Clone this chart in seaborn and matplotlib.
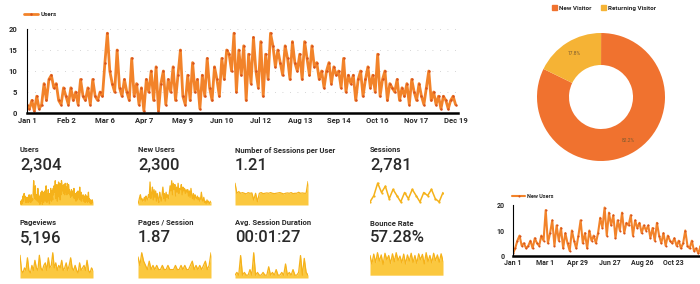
import seaborn as sns
import matplotlib.pyplot as plt
from matplotlib.patches import Patch
import numpy as np
import pandas as pd

sns.set_theme(style="white")
plt.rcParams['font.family'] = ['Roboto', 'DejaVu Sans']

ORANGE = "#f2832a"
DARK_ORANGE = "#d8531c"
PIE_ORANGE = "#f0722f"
PIE_YELLOW = "#f5b335"
YELLOW = "#f5b21a"
FILL_YELLOW = "#fbc534"
TEXT = "#2a2a2a"

# ---- data --------------------------------------------------------------
# daily users, one value every 2 days from Jan 1 (day 0) to Dec 19 (day 352)
users = [2, 1, 3, 0.5, 4, 1, 2, 7, 3, 8, 9, 6, 7, 3, 2, 6,
         4, 2, 6, 3, 5, 2, 8, 4, 3, 6, 2, 8, 4, 3, 5, 4,
         12, 19, 10, 7, 5, 15, 6, 4, 8, 5, 3, 13, 4, 7, 2, 6,
         0.5, 8, 5, 10, 3, 11, 0.5, 7, 10, 2, 8, 5, 11, 3, 9, 15,
         4, 2, 9, 3, 12, 5, 8, 1, 9, 4, 13, 6, 3, 11, 8, 4,
         13, 8, 15, 14, 10, 19, 5, 15, 9, 16, 3, 14, 7, 18, 10, 6,
         17, 4, 14, 8, 19, 16, 11, 15, 12, 9, 16, 13, 8, 17, 12, 10,
         14, 8, 17, 13, 9, 16, 11, 12, 8, 10, 6, 10, 12, 7, 11, 9,
         10, 6, 13, 5, 9, 7, 9, 3, 8, 10, 4, 8, 11, 6, 9, 5,
         14, 4, 8, 10, 3, 7, 6, 5, 8, 3, 6, 4, 7, 2, 8, 5,
         3, 7, 4, 2, 6, 10, 3, 5, 2, 4, 1, 4, 3, 1, 3, 4,
         2]
users_step = 2
main_ticks = [0, 32, 64, 96, 128, 160, 192, 224, 256, 288, 320, 352]
main_labels = ["Jan 1", "Feb 2", "Mar 6", "Apr 7", "May 9", "Jun 10",
               "Jul 12", "Aug 13", "Sep 14", "Oct 16", "Nov 17", "Dec 19"]

# new users, one value every 4 days
new_users = [1, 3, 6, 8, 4, 5, 3, 4,
             6, 3, 7, 5, 4, 8, 6,
             18, 5, 9, 14, 4, 12, 6, 11,
             3, 9, 5, 2, 10, 6, 3,
             8, 14, 5, 9, 3, 10, 6, 8,
             5, 9, 15, 11, 19, 8, 17, 12,
             16, 7, 14, 10, 17, 9, 13,
             12, 16, 8, 14, 11, 13, 9, 12,
             10, 12, 7, 11, 6, 13, 8,
             5, 9, 4, 8, 6, 5, 7, 4,
             6, 3, 5, 10, 4, 3, 6, 2,
             3, 1, 4, 2, 3, 1, 2, 3]
new_users_step = 4
nu_ticks = [0, 59, 118, 177, 237, 295]
nu_labels = ["Jan 1", "Mar 1", "Apr 29", "Jun 27", "Aug 26", "Oct 23"]

visitor_types = ["New Visitor", "Returning Visitor"]
visitor_share = [82.2, 17.8]

sessions_per_user = [1.5, 1.2, 1.25, 1.2, 1.22, 1.2, 1.18, 1.22, 1.2, 1.21,
                     1.0, 1.2, 0.95, 1.2, 1.22, 1.19, 1.2, 1.21, 1.2, 1.22,
                     1.2, 1.19, 1.2, 1.21, 1.22, 1.2, 1.18, 1.2, 1.21, 1.2,
                     1.22, 1.19, 1.2, 1.2, 1.23, 1.2, 1.21, 1.2, 1.2, 1.55]
sessions = [3, 5, 9, 6, 8, 4, 7, 5, 3, 6, 4, 7, 5, 3, 6, 5, 7, 4, 3, 6]
pageviews = [9, 3, 2, 4, 3, 8, 3, 2, 5, 3, 7, 4, 3, 9, 4, 3, 5, 6, 3, 8,
             4, 5, 10, 4, 6, 3, 5, 4, 7, 3, 4, 6, 3, 5, 8, 4, 3, 5, 3, 2,
             6, 3, 4, 5, 3, 7, 3, 2, 4, 3]
pages_per_session = [5, 3, 6, 4, 3, 2, 4, 2, 3, 2, 3, 2, 2, 3, 2, 2, 3, 2, 2, 2,
                     3, 2, 2, 3, 2, 3, 2, 2, 3, 4, 2, 3, 2, 3, 2, 3, 4, 2, 3, 6]
avg_duration = [1, 2, 1, 8, 1, 2, 1, 1, 3, 1, 9, 1, 2, 1, 1, 2, 1, 1, 4, 1,
                2, 1, 3, 1, 1, 2, 1, 5, 1, 2, 1, 3, 1, 1, 2, 8, 1, 7, 2, 1]
bounce_rate = [70, 40, 75, 45, 80, 50, 72, 38, 78, 55, 70, 42, 76, 48, 80, 52,
               68, 44, 75, 40, 72, 50, 78, 45, 70, 42, 76, 55, 74, 40, 80, 48,
               70, 44, 78, 52, 72, 46, 76, 50]

kpi_titles = ["Users", "New Users", "Number of Sessions per User", "Sessions",
              "Pageviews", "Pages / Session", "Avg. Session Duration", "Bounce Rate"]
kpi_values = ["2,304", "2,300", "1.21", "2,781", "5,196", "1.87", "00:01:27", "57.28%"]
kpi_series = [users, new_users, sessions_per_user, sessions,
              pageviews, pages_per_session, avg_duration, bounce_rate]

W, H = 700, 284


def px(x, y, w, h):
    # pixel box (left, top, width, height) -> figure coords
    return [x / W, 1 - (y + h) / H, w / W, h / H]


fig = plt.figure(figsize=(7, 2.84), dpi=100)

# ---- main users chart --------------------------------------------------
ax = fig.add_axes(px(27, 29, 431, 84))
df = pd.DataFrame({"day": np.arange(len(users)) * users_step, "Users": users})
sns.lineplot(data=df, x="day", y="Users", ax=ax, color=ORANGE, linewidth=2.0,
             marker="o", markersize=1.8, markerfacecolor=DARK_ORANGE,
             markeredgewidth=0, label="Users")
ax.set_xlim(0, 354)
ax.set_ylim(0, 20)
ax.set_xticks(main_ticks)
ax.set_xticklabels(main_labels, fontsize=5.5, fontweight="bold", color=TEXT)
ax.set_yticks([0, 5, 10, 15, 20])
ax.set_yticklabels(["0", "5", "10", "15", "20"], fontsize=5.5, fontweight="bold", color=TEXT)
ax.tick_params(length=0, pad=3)
ax.tick_params(axis="y", pad=7)
ax.set_xlabel("")
ax.set_ylabel("")
ax.grid(axis="y", color="#c8c8c8", linestyle=(0, (1, 8)), linewidth=0.6)
for s in ["top", "right"]:
    ax.spines[s].set_visible(False)
ax.spines["left"].set_color("black")
ax.spines["left"].set_linewidth(0.8)
ax.spines["bottom"].set_color("black")
ax.spines["bottom"].set_linewidth(1.8)
ax.legend(loc="center left", bbox_to_anchor=(-0.02, 1.17), frameon=False,
          prop={"size": 4.5, "weight": "bold"}, handlelength=2.2, handletextpad=0.4)

# ---- donut -------------------------------------------------------------
ax_pie = fig.add_axes(px(521, 17, 160, 160))
ax_pie.pie(visitor_share, colors=[PIE_ORANGE, PIE_YELLOW], startangle=154,
           counterclock=True, wedgeprops=dict(width=0.5, edgecolor="none"),
           autopct="%.1f%%", pctdistance=0.8,
           textprops=dict(fontsize=3.5, color="#7a5a30"))
ax_pie.set_aspect("equal")
fig.legend(handles=[Patch(color=PIE_ORANGE), Patch(color=PIE_YELLOW)],
           labels=visitor_types, loc="center", bbox_to_anchor=(604 / W, 1 - 8 / H),
           ncol=2, frameon=False, prop={"size": 4.5, "weight": "bold"},
           handlelength=0.8, handleheight=0.8, handletextpad=0.3, columnspacing=1.5)

# ---- new users chart ---------------------------------------------------
ax2 = fig.add_axes(px(513, 205, 187, 51))
df2 = pd.DataFrame({"day": np.arange(len(new_users)) * new_users_step, "New Users": new_users})
sns.lineplot(data=df2, x="day", y="New Users", ax=ax2, color=ORANGE, linewidth=1.5,
             marker="o", markersize=1.5, markerfacecolor=DARK_ORANGE,
             markeredgewidth=0, label="New Users")
ax2.set_xlim(0, 343)
ax2.set_ylim(0, 20)
ax2.set_xticks(nu_ticks)
ax2.set_xticklabels(nu_labels, fontsize=5, fontweight="bold", color=TEXT)
ax2.set_yticks([0, 10, 20])
ax2.set_yticklabels(["0", "10", "20"], fontsize=5, fontweight="bold", color=TEXT)
ax2.tick_params(length=0, pad=2)
ax2.tick_params(axis="y", pad=6)
ax2.set_xlabel("")
ax2.set_ylabel("")
for s in ["top", "right"]:
    ax2.spines[s].set_visible(False)
ax2.spines["left"].set_color("black")
ax2.spines["left"].set_linewidth(0.8)
ax2.spines["bottom"].set_color("black")
ax2.spines["bottom"].set_linewidth(1.8)
ax2.legend(loc="center left", bbox_to_anchor=(-0.03, 1.16), frameon=False,
           prop={"size": 4, "weight": "bold"}, handlelength=2.2, handletextpad=0.4)

# ---- KPI tiles with sparklines -----------------------------------------
col_x = [20, 138, 235, 370]
rows = [(150, 165, 180, 25), (223, 238, 252, 26)]
for i, (title, value, series) in enumerate(zip(kpi_titles, kpi_values, kpi_series)):
    r, c = divmod(i, 4)
    ty, vy, sy, sh = rows[r]
    x0 = col_x[c]
    fig.text(x0 / W, 1 - ty / H, title, fontsize=5.5, color=TEXT,
             fontweight="bold", va="center", ha="left")
    fig.text(x0 / W, 1 - vy / H, value, fontsize=12, color=TEXT,
             fontweight="medium", va="center", ha="left")
    sax = fig.add_axes(px(x0, sy, 73, sh))
    xs = np.arange(len(series))
    vals = np.array(series, dtype=float)
    if title == "Sessions":
        sns.lineplot(x=xs, y=vals, ax=sax, color=YELLOW, linewidth=1.1,
                     marker="o", markersize=1.6, markeredgewidth=0)
        sax.set_ylim(vals.min() - 1, vals.max() + 1)
    else:
        if title == "Number of Sessions per User":
            base, low = 0.85, 0.85
        elif title == "Bounce Rate":
            base, low = 0, -10
        else:
            base, low = 0, 0
        sax.fill_between(xs, base, vals, color=FILL_YELLOW, alpha=0.95, linewidth=0)
        sns.lineplot(x=xs, y=vals, ax=sax, color=YELLOW, linewidth=0.9)
        sax.set_ylim(low, vals.max() * 1.03)
    sax.set_xlim(0, len(series) - 1)
    sax.axis("off")

fig.savefig("out.png", dpi=100)
